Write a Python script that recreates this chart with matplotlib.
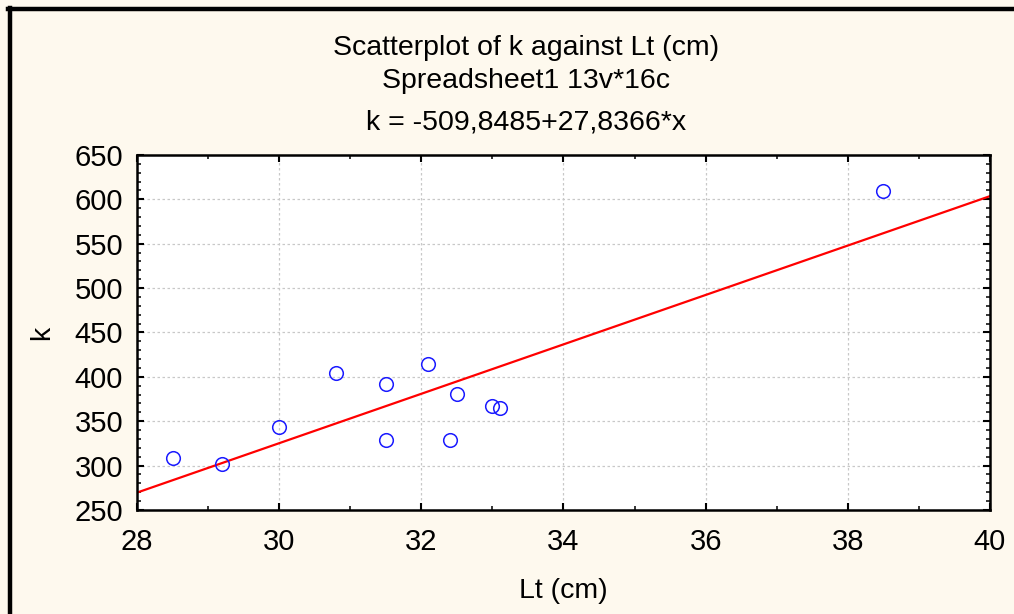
import numpy as np
import matplotlib.pyplot as plt
from matplotlib.lines import Line2D
from matplotlib.ticker import MultipleLocator

plt.rcParams['font.family'] = ['Liberation Sans', 'DejaVu Sans']

# datos
lt_cm = [28.5, 29.2, 30.0, 30.8, 31.5, 31.5, 32.1, 32.4, 32.5, 33.0, 33.1, 38.5]
k_vals = [309, 302, 343, 404, 392, 329, 415, 329, 381, 367, 365, 609]
intercepto = -509.8485
pendiente = 27.8366

fondo = '#fef9ee'
fig = plt.figure(figsize=(10.14, 6.14), dpi=100, facecolor=fondo)
ax = fig.add_axes([0.1351, 0.1694, 0.8412, 0.5782])
ax.set_facecolor('white')

# marco negro (izquierda y arriba)
fig.add_artist(Line2D([0.0099, 0.0099], [0, 0.987], transform=fig.transFigure, color='black', lw=3.2))
fig.add_artist(Line2D([0.0079, 1.0], [0.9853, 0.9853], transform=fig.transFigure, color='black', lw=3.2))

# linea de regresion
xr = np.array([28, 40])
ax.plot(xr, intercepto + pendiente * xr, color='#ff0000', lw=1.6, zorder=2)
ax.plot(lt_cm, k_vals, 'o', mfc='none', mec='#1a1aff', ms=9.8, mew=1.1, zorder=3)

ax.set_xlim(28, 40)
ax.set_ylim(250, 650)
ax.xaxis.set_major_locator(MultipleLocator(2))
ax.xaxis.set_minor_locator(MultipleLocator(1))
ax.yaxis.set_major_locator(MultipleLocator(50))
ax.yaxis.set_minor_locator(MultipleLocator(10))
ax.tick_params(which='both', direction='in', top=True, right=True, labelsize=21)
ax.tick_params(axis='x', pad=13)
ax.tick_params(axis='y', pad=10)
ax.tick_params(which='major', length=5, width=1.5)
ax.tick_params(which='minor', length=3, width=1.1)
for s in ax.spines.values():
    s.set_linewidth(1.8)
ax.grid(True, which='major', color='#c8c8c8', linestyle=(0, (2, 2)), lw=0.9)
ax.set_axisbelow(True)

ax.set_xlabel('Lt (cm)', fontsize=20.5, labelpad=16)
ax.set_ylabel('k', fontsize=20.5, labelpad=14)

fig.text(0.5185, 0.922, 'Scatterplot of k against Lt (cm)', ha='center', va='center', fontsize=20.5)
fig.text(0.5185, 0.868, 'Spreadsheet1 13v*16c', ha='center', va='center', fontsize=20.5)
fig.text(0.5185, 0.800, 'k = -509,8485+27,8366*x', ha='center', va='center', fontsize=20.5)

fig.savefig('out.png', dpi=100, facecolor=fondo)
